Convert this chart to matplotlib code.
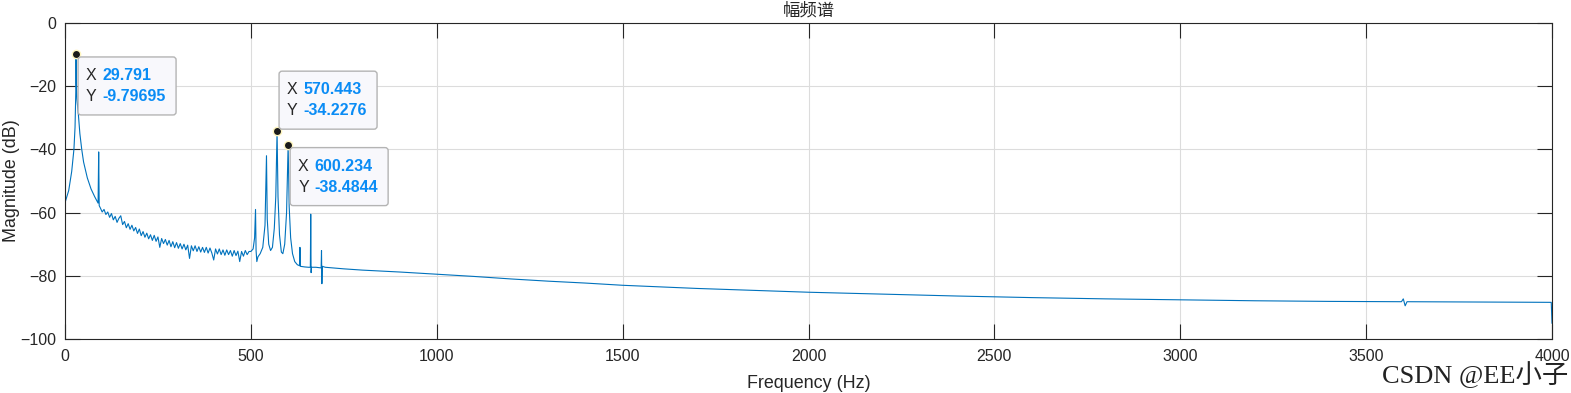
import numpy as np
import matplotlib
matplotlib.use("Agg")
import matplotlib.pyplot as plt
from matplotlib.patches import FancyBboxPatch
from matplotlib.transforms import IdentityTransform

plt.rcParams['font.family'] = ['Liberation Sans', 'Noto Sans CJK SC', 'DejaVu Sans']

# data tips
tip_freq = [29.791, 570.443, 600.234]
tip_mag = [-9.79695, -34.2276, -38.4844]
tip_side = ["below", "above", "below"]

# 0 - 92 Hz: main peak + 90 Hz spur
low_freq = [0, 1, 10, 18, 24, 27, 29, 29.791, 30.5, 32, 36, 40, 45, 50, 60, 70, 80, 89, 90.6, 92]
low_mag = [-63, -56.5, -53, -47, -40, -33, -22, -9.79695, -19, -24, -29, -35, -40, -44, -49,
           -52.5, -55, -57, -40.8, -57.8]

# 95 - 500 Hz, every 5 Hz: noisy floor
noise_mag = [-58.5, -59.8, -59.0, -60.6, -59.8, -61.5, -60.3, -62.3, -61.2, -63.1,
             -61.8, -61.0, -63.8, -62.8, -64.8, -63.5, -65.3, -64.0, -65.8, -64.7,
             -66.6, -65.2, -67.3, -66.0, -67.8, -66.5, -68.3, -67.0, -68.8, -67.2,
             -69.1, -67.7, -71.0, -68.2, -69.8, -68.5, -70.3, -68.8, -70.8, -69.2,
             -71.1, -69.5, -71.3, -69.8, -71.5, -70.0, -71.8, -70.3, -74.5, -70.5,
             -72.1, -70.5, -72.3, -70.8, -72.5, -71.0, -72.6, -71.0, -72.8, -71.2,
             -72.8, -75.0, -71.5, -73.1, -71.5, -73.3, -71.8, -73.5, -71.8, -73.3,
             -72.0, -73.8, -72.0, -73.6, -72.2, -75.5, -72.3, -73.8, -72.0, -73.3,
             -72.3, -72.3]
noise_freq = list(np.linspace(95, 500, len(noise_mag)))

# 500 - 700 Hz: harmonics cluster
mid_freq = [506, 510, 512.5, 514, 516, 519, 525, 532, 538, 542, 544, 548, 553, 558, 563, 567,
            570.443, 573, 577, 582, 586, 591, 596, 600.234, 603, 607, 612, 618, 625, 631, 632,
            633, 645, 655, 660, 661, 662, 663, 675, 689, 690, 691, 692, 700]
mid_mag = [-71.5, -68, -59, -72, -75.5, -74, -73, -71, -64, -42, -62, -70, -72, -71, -65, -55,
           -34.2276, -55, -67, -72.5, -73, -70, -60, -38.4844, -58, -68, -73, -75.5, -76.5,
           -76.8, -71, -77, -77.2, -77.3, -77.3, -60.5, -79, -77.3, -77.3, -77.5, -72, -82.5,
           -77, -77.3]

# 700 - 4000 Hz: slowly falling floor
high_freq = [750, 800, 900, 1000, 1100, 1200, 1300, 1400, 1500, 1600, 1700, 1800, 1900, 2000,
             2200, 2400, 2600, 2800, 3000, 3200, 3400, 3595, 3600, 3605, 3610, 3800, 3998, 4000]
high_mag = [-77.8, -78.2, -78.8, -79.5, -80.2, -81.0, -81.7, -82.3, -83.0, -83.5, -84.0, -84.4,
            -84.8, -85.2, -85.8, -86.4, -86.9, -87.3, -87.6, -87.9, -88.1, -88.2, -87.3, -89.5,
            -88.2, -88.3, -88.4, -95]

freq = low_freq + noise_freq + mid_freq + high_freq
mag = low_mag + noise_mag + mid_mag + high_mag

fig = plt.figure(figsize=(15.71, 3.93), dpi=100)
ax = fig.add_axes([65 / 1571, 1 - 339 / 393, 1487 / 1571, 316 / 393])

ax.plot(freq, mag, color='#0072BD', lw=0.8)
ax.set_xlim(0, 4000)
ax.set_ylim(-100, 0)
ax.set_xticks(range(0, 4001, 500))
ax.set_yticks(range(-100, 1, 20))
ax.grid(True, color='#dcdcdc', lw=0.8)
ax.set_axisbelow(True)
ax.tick_params(direction='in', length=10.7, width=0.8, top=True, right=True,
               labelsize=11.5, colors='#262626')
ax.tick_params(axis='x', pad=7)
ax.tick_params(axis='y', pad=6)
for s in ax.spines.values():
    s.set_color('#262626')
    s.set_linewidth(0.8)

ax.set_title('幅频谱', fontsize=12.5, pad=5, color='#262626')
ax.set_xlabel('Frequency (Hz)', fontsize=12.9, labelpad=8, color='#262626')
ax.set_ylabel('Magnitude (dB)', fontsize=12.9, color='#262626')
ax.yaxis.set_label_coords((20 - 65) / 1487, 0.5)

# data tips drawn in pixel space
box_w, box_h = 98, 58
for fx, fy, side in zip(tip_freq, tip_mag, tip_side):
    px, py = ax.transData.transform((fx, fy))
    ax.plot(fx, fy, 'o', color='#1a1a1a', mec='#fff6c0', ms=6, mew=1, zorder=6, clip_on=False)
    left = px + 2
    if side == "below":
        top = py - 3
    else:
        top = py + 2 + box_h
    box = FancyBboxPatch((left, top - box_h), box_w, box_h,
                         boxstyle='round,pad=0,rounding_size=3',
                         transform=IdentityTransform(), fc='#f8f8fc', ec='#b4b4b4', lw=1,
                         zorder=5)
    fig.add_artist(box)
    for k, (lab, val) in enumerate([('X', fx), ('Y', fy)]):
        ty = top - 18.5 - 21 * k
        fig.text(left + 8, ty, lab, transform=IdentityTransform(), va='center', ha='left',
                 fontsize=11.5, color='#262626', zorder=6)
        fig.text(left + 24, ty, '%g' % val, transform=IdentityTransform(), va='center',
                 ha='left', fontsize=11.5, fontweight='bold', color='#0a8cf5', zorder=6)

fig.text(1568 / 1571, 10 / 393, 'CSDN @EE小子', ha='right', va='baseline', fontsize=19,
         family=['Liberation Serif', 'Noto Sans CJK SC'], color='#222222')

fig.savefig('out.png', dpi=100)
